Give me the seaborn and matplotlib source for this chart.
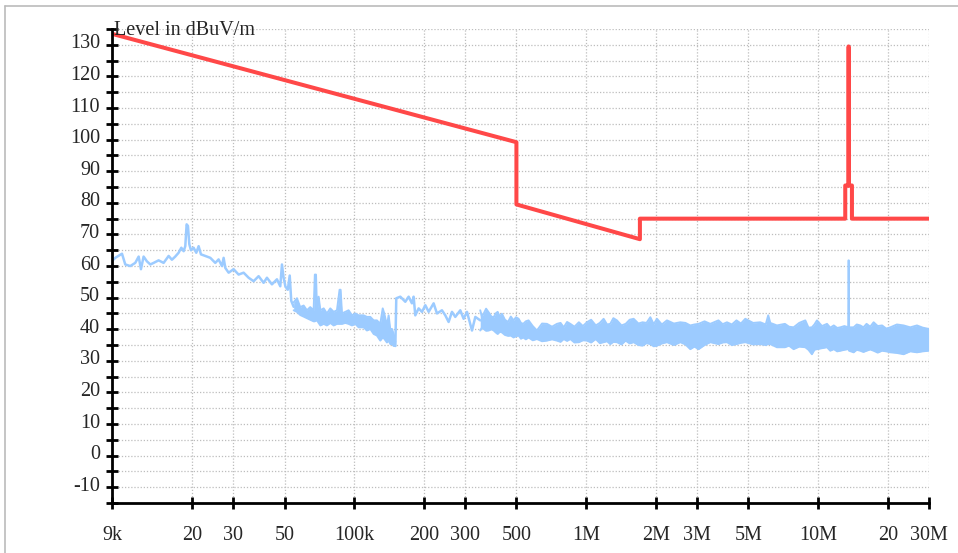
import numpy as np
import pandas as pd
import seaborn as sns
import matplotlib.pyplot as plt
from matplotlib.lines import Line2D
from matplotlib.ticker import NullLocator
from matplotlib.transforms import ScaledTranslation

# limit line, frequency in kHz, level in dBuV/m
limit_freq_khz = [9, 500, 500, 1705, 1705, 13110, 13110, 13553, 13553,
                  13567, 13567, 14010, 14010, 30000]
limit_level = [133.5, 99.2, 79.5, 68.5, 75.0, 75.0, 85.5, 85.5, 129.5,
               129.5, 85.5, 85.5, 75.0, 75.0]

# measured trace 9 kHz - 55 kHz (single line)
low_freq_khz = [
    9.0, 9.3, 9.94, 10.27, 10.79, 11.34, 11.73, 12.0, 12.32, 12.73, 13.17,
    13.61, 14.3, 15.03, 15.8, 16.32, 16.87, 17.44, 17.92, 18.34, 18.64,
    18.89, 19.14, 19.4, 19.72, 20.25, 20.79, 21.28, 21.78, 22.73, 23.9,
    25.11, 25.95, 26.83, 27.28, 27.74, 28.67, 30.12, 31.66, 33.27, 34.97,
    36.75, 38.62, 40.59, 41.95, 44.08, 46.33, 47.89, 48.69, 49.5, 50.4,
    51.6, 52.6, 53.4, 54.7,
]
low_level = [
    61.6, 62.6, 63.9, 60.5, 60.0, 61.0, 63.0, 59.0, 63.0, 61.5, 60.5,
    61.0, 61.8, 61.0, 63.2, 62.0, 63.0, 64.2, 65.8, 64.7, 66.3,
    73.2, 72.7, 66.9, 65.0, 65.8, 64.2, 66.3, 63.7, 63.2, 62.6,
    61.0, 62.1, 60.0, 62.6, 59.4, 57.9, 59.0, 57.3, 57.9, 56.3,
    55.2, 56.8, 54.7, 56.3, 54.2, 55.8, 53.6, 60.5, 56.3, 53.5,
    52.5, 57.0, 49.0, 47.1,
]

# measured trace 55 kHz - 150 kHz (dense, upper / lower envelope)
mid_freq_khz = [
    54.7, 56.5, 58.4, 60.4, 62.4, 64.5, 66.7, 67.5, 68.3, 69.0, 70.1,
    71.3, 73.7, 76.1, 78.7, 81.4, 84.1, 86.3, 87.2, 88.4, 91.4, 94.4,
    97.6, 100.9, 104.3, 109.6, 113.3, 117.1, 121.1, 125.1, 129.3, 132.5,
    134.5, 138.2, 140.5, 143.0, 145.2, 147.7, 150.2,
]
mid_upper = [
    48.5, 49.8, 47.0, 47.5, 46.0, 47.0, 46.0, 57.3, 57.3, 45.5, 50.3,
    46.0, 46.6, 45.0, 46.6, 45.5, 46.0, 52.5, 52.5, 45.0, 45.5, 46.0,
    44.4, 45.0, 44.4, 44.4, 43.9, 43.9, 42.8, 42.8, 41.7, 46.6,
    45.0, 41.2, 44.4, 39.6, 40.1, 38.5, 36.0,
]
mid_lower = [
    46.0, 45.5, 44.5, 44.0, 43.5, 43.0, 42.5, 42.5, 42.8, 42.8, 42.0,
    41.2, 41.7, 41.2, 42.0, 41.2, 41.7, 41.7, 41.7, 41.7, 42.0, 41.7,
    41.2, 41.7, 40.6, 40.6, 39.6, 40.1, 38.5, 38.0, 36.4, 37.4,
    37.0, 35.8, 36.4, 35.3, 35.3, 34.7, 34.7,
]

# measured trace 150 kHz - 350 kHz (single line)
step_freq_khz = [
    150.2, 151.6, 157.8, 165.8, 171.4, 177.1, 180.1, 183.1, 189.3, 195.7,
    202.3, 209.1, 219.7, 227.1, 238.6, 246.7, 255.0, 263.6, 272.4, 286.3,
    296.0, 306.0, 321.6, 332.4, 349.3,
]
step_level = [
    34.7, 49.8, 50.3, 48.7, 50.3, 48.2, 50.3, 44.4, 46.6, 45.5,
    47.6, 45.5, 48.2, 45.0, 46.0, 44.4, 42.3, 45.5, 43.9, 46.0,
    43.3, 45.5, 39.6, 43.9, 42.8,
]

# measured trace 350 kHz - 30 MHz (dense, upper / lower envelope)
high_freq_khz = [
    349, 355, 361, 370, 380, 390, 399, 407, 415, 424,
    433, 446, 460, 473, 486, 498, 511, 523, 535, 549,
    564, 588, 613, 645, 677, 712, 748, 775, 800, 827,
    854, 890, 930, 968, 1007, 1050, 1100, 1145, 1189, 1230,
    1270, 1310, 1357, 1420, 1480, 1540, 1602, 1680, 1750, 1820,
    1891, 1955, 2020, 2120, 2231, 2390, 2546, 2680, 2812, 2930,
    3055, 3240, 3430, 3720, 3880, 4048, 4250, 4450, 4650, 4857,
    5250, 5638, 5950, 6100, 6225, 6651, 7200, 7500, 7848, 8300,
    8814, 9100, 9414, 9650, 9900, 10400, 10935, 11300, 11700, 12100,
    12483, 13000, 13500, 13540, 13580, 13620, 14247, 14700, 15218, 15700,
    16200, 16800, 17379, 18100, 18900, 19700, 20511, 21900, 23409, 25000,
    26730, 28300, 30000,
]
high_upper = [
    46.0, 44.0, 44.9, 46.5, 45.3, 44.0, 43.8, 45.0, 45.5, 44.0,
    44.9, 43.0, 42.3, 44.0, 42.8, 43.8, 43.3, 42.0, 41.7, 42.5,
    42.8, 41.0, 39.6, 41.8, 41.7, 40.8, 41.7, 42.0, 40.6, 42.3,
    41.7, 40.8, 42.2, 41.0, 42.2, 43.0, 41.2, 42.0, 43.3, 41.5,
    41.7, 43.5, 42.8, 41.2, 41.7, 43.0, 43.3, 41.8, 42.2, 42.0,
    43.8, 41.6, 43.3, 41.5, 42.8, 41.8, 42.2, 42.0, 41.2, 41.5,
    41.7, 42.5, 41.7, 42.8, 41.6, 42.2, 41.5, 42.8, 41.8, 43.3,
    42.0, 42.2, 41.5, 44.4, 42.0, 41.2, 41.7, 40.8, 40.6, 42.0,
    42.8, 40.5, 40.6, 41.5, 42.8, 41.0, 41.7, 40.5, 41.2, 40.4,
    40.6, 41.0, 40.6, 61.8, 61.8, 40.6, 40.6, 41.5, 41.2, 40.6,
    41.7, 40.8, 42.2, 41.0, 41.2, 40.2, 40.6, 41.5, 41.2, 40.6,
    41.2, 40.5, 40.1,
]
high_lower = [
    39.6, 40.5, 40.1, 39.5, 39.6, 40.0, 39.6, 39.0, 38.5, 39.2,
    39.0, 38.2, 37.9, 38.0, 37.4, 37.8, 38.0, 37.0, 37.4, 36.8,
    37.4, 36.5, 36.9, 36.2, 36.4, 36.8, 36.4, 36.0, 36.9, 36.3,
    36.9, 35.8, 35.9, 36.5, 36.4, 35.8, 36.9, 35.6, 35.9, 36.2,
    35.3, 36.0, 35.9, 35.2, 36.4, 35.5, 35.9, 35.0, 34.8, 35.6,
    35.3, 34.6, 34.8, 35.5, 35.9, 35.0, 35.9, 35.2, 33.7, 34.5,
    33.7, 35.0, 35.9, 35.3, 35.8, 35.9, 35.0, 35.3, 35.7, 35.9,
    35.2, 35.3, 35.0, 35.3, 35.3, 34.3, 34.3, 34.8, 33.7, 34.5,
    34.3, 33.5, 32.1, 33.5, 33.7, 34.0, 34.3, 33.2, 33.7, 33.0,
    33.2, 33.5, 33.7, 33.7, 33.7, 33.2, 32.7, 33.5, 33.2, 32.8,
    33.2, 33.6, 33.2, 32.6, 33.2, 33.0, 32.7, 32.5, 32.1, 33.0,
    32.7, 33.0, 33.2,
]

x_ticks_khz = [9, 20, 30, 50, 100, 200, 300, 500, 1000, 2000, 3000, 5000,
               10000, 20000, 30000]
x_tick_labels = ["9k", "20", "30", "50", "100k", "200", "300", "500", "1M",
                 "2M", "3M", "5M", "10M", "20", "30M"]
y_ticks = list(range(-10, 131, 10))
y_minor = list(range(-15, 136, 5))

limit_color = "#ff4848"
trace_color = "#9ccbff"
fs = 14.5

sns.set_theme(style="white")
plt.rcParams["font.family"] = ["Liberation Serif", "DejaVu Serif"]
plt.rcParams["axes.unicode_minus"] = False

fig = plt.figure(figsize=(9.58, 5.53), dpi=100, facecolor="white")
ax = fig.add_axes([0.1169, 0.0904, 0.8524, 0.857])
ax.set_xscale("log")

# dense parts of the measurement
for f, up, lo in [(mid_freq_khz, mid_upper, mid_lower),
                  (high_freq_khz, high_upper, high_lower)]:
    ax.fill_between(f, lo, up, color=trace_color, lw=0)
    for edge in (up, lo):
        sns.lineplot(x=f, y=edge, sort=False, estimator=None,
                     color=trace_color, lw=1.4, ax=ax)

# line-like parts of the measurement
for f, lvl in [(low_freq_khz, low_level), (step_freq_khz, step_level)]:
    sns.lineplot(x=f, y=lvl, sort=False, estimator=None,
                 color=trace_color, lw=1.8, ax=ax)

sns.lineplot(x=limit_freq_khz, y=limit_level, sort=False, estimator=None,
             color=limit_color, lw=2.9, ax=ax)

ax.set_xlim(9, 30000)
ax.set_ylim(-15, 135)
ax.set_xticks(x_ticks_khz)
ax.set_xticklabels(x_tick_labels)
ax.xaxis.set_minor_locator(NullLocator())
ax.set_yticks(y_ticks)
ax.set_yticks(y_minor, minor=True)
ax.set_xlabel("")
ax.set_ylabel("")

grid_kw = dict(color="#bdbdbd", linestyle=(0, (1, 1.5)), lw=0.9)
ax.xaxis.grid(True, which="major", **grid_kw)
ax.yaxis.grid(True, which="both", **grid_kw)

for side in ["top", "right"]:
    ax.spines[side].set_visible(False)
for side in ["left", "bottom"]:
    ax.spines[side].set_linewidth(2)
    ax.spines[side].set_color("black")

ax.tick_params(axis="x", which="both", direction="inout", length=8, width=2,
               color="black", labelsize=fs, pad=12.5, bottom=True)
ax.tick_params(axis="y", which="both", direction="inout", length=9, width=2,
               color="black", labelsize=fs, pad=4, left=True)
for label in ax.get_yticklabels():
    label.set_transform(label.get_transform()
                        + ScaledTranslation(0, 2.5 / 72, fig.dpi_scale_trans))

ax.text(0.003, 0.997, "Level in dBuV/m", transform=ax.transAxes,
        ha="left", va="center", fontsize=fs)

# light frame of the exported picture
fig.add_artist(Line2D([0.0057, 0.0057], [0, 0.989], transform=fig.transFigure,
                      color="#bbbbbb", lw=1.2))
fig.add_artist(Line2D([0.0057, 1.0], [0.989, 0.989], transform=fig.transFigure,
                      color="#bbbbbb", lw=1.2))

plt.savefig("out.png", dpi=100, facecolor="white")
